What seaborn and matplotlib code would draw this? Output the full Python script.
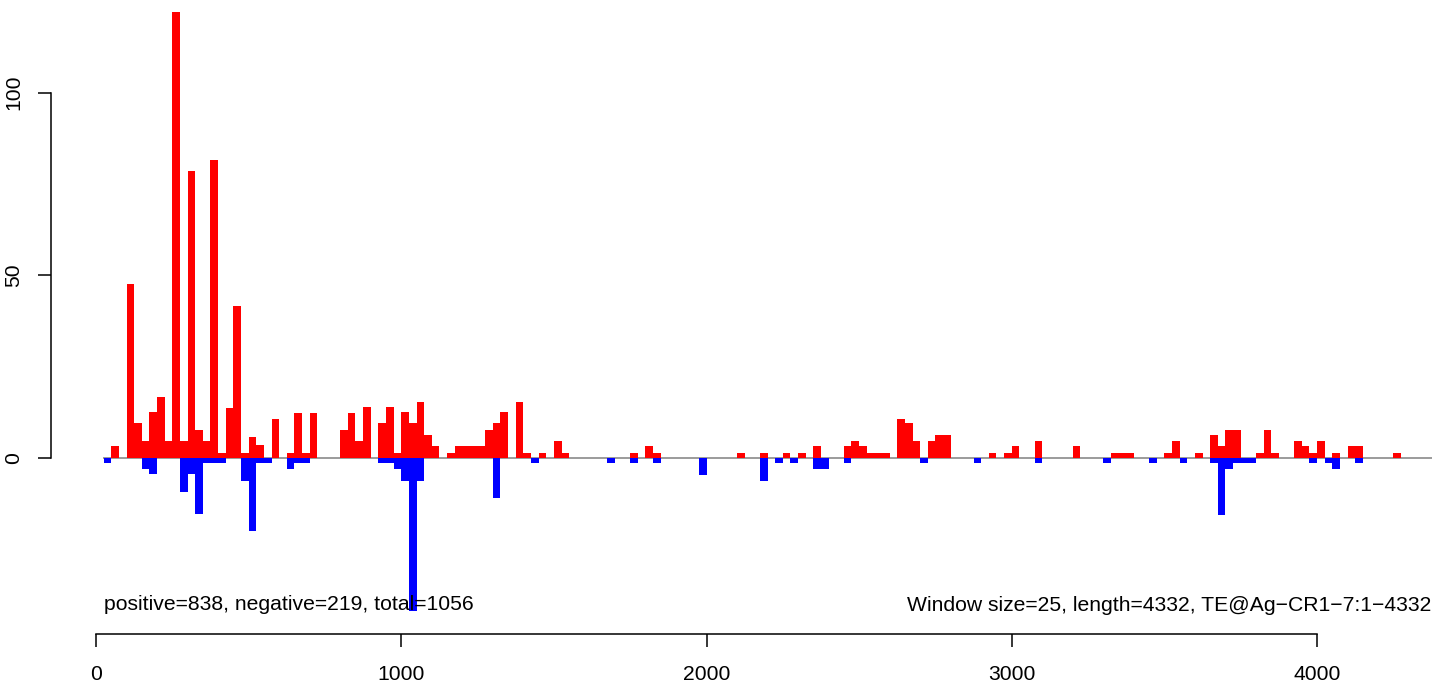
"""
plot.py
=======
Strand coverage of small RNA reads along TE@Ag-CR1-7 in 25 bp windows.
Positive strand drawn upward (red), negative strand downward (blue).
"""

import numpy as np
import pandas as pd
import matplotlib
matplotlib.use('Agg')
import matplotlib.pyplot as plt
import seaborn as sns

WINDOW = 25
SEQ_LENGTH = 4332

# window index (start = index * WINDOW) and read counts
pos_windows = [2, 4, 5, 6, 7, 8, 9, 10, 11, 12, 13, 14, 15, 16, 17, 18, 19, 20, 21, 23,
               25, 26, 27, 28, 32, 33, 34, 35, 37, 38, 39, 40, 41, 42, 43, 44, 46, 47,
               48, 49, 50, 51, 52, 53, 55, 56, 58, 60, 61, 70, 72, 73, 84, 87, 90, 92,
               94, 98, 99, 100, 101, 102, 103, 105, 106, 107, 109, 110, 111, 117, 119,
               120, 123, 128, 133, 134, 135, 140, 141, 144, 146, 147, 148, 149, 152,
               153, 154, 157, 158, 159, 160, 162, 164, 165, 170]
pos_counts = [3.3, 47.6, 9.4, 4.5, 12.4, 16.6, 4.5, 122.0, 4.5, 78.5, 7.6, 4.5, 81.6, 1.4,
              13.6, 41.6, 1.4, 5.8, 3.4, 10.5,
              1.4, 12.3, 1.4, 12.3, 7.6, 12.3, 4.6, 13.9, 9.4, 13.9, 1.4, 12.4, 9.4, 15.3,
              6.1, 3.1, 1.4, 3.1,
              3.1, 3.1, 3.1, 7.7, 9.4, 12.4, 15.3, 1.4, 1.4, 4.7, 1.4, 1.4, 3.3, 1.4, 1.4,
              1.4, 1.4, 1.4,
              3.3, 3.3, 4.7, 3.3, 1.4, 1.4, 1.4, 10.7, 9.4, 4.7, 4.7, 6.2, 6.2, 1.4, 1.4,
              3.3, 4.7, 3.3, 1.4, 1.4, 1.4, 1.4, 4.7, 1.4, 6.2, 3.3, 7.7, 7.7, 1.4,
              7.7, 1.4, 4.7, 3.1, 1.4, 4.7, 1.4, 3.1, 3.1, 1.4]

neg_windows = [1, 6, 7, 11, 12, 13, 14, 15, 16, 19, 20, 21, 22, 25, 26, 27, 37, 38,
               39, 40, 41, 42, 52, 57, 67, 70, 73, 79, 87, 89, 91, 94, 95, 98, 108,
               115, 123, 132, 138, 142, 146, 147, 148, 149, 150, 151, 159, 161, 162, 165]
neg_counts = [-1.5, -3.2, -4.6, -9.3, -4.6, -15.5, -1.5, -1.5, -1.5, -6.3, -20.1, -1.5,
              -1.5, -3.2, -1.5, -1.5, -1.5, -1.5,
              -3.2, -6.3, -41.9, -6.3, -11.0, -1.5, -1.5, -1.5, -1.5, -4.7, -6.3, -1.5,
              -1.5, -3.2, -3.2, -1.5, -1.5,
              -1.5, -1.5, -1.5, -1.5, -1.5, -1.5, -15.7, -3.2, -1.5, -1.5, -1.5, -1.5,
              -1.5, -3.2, -1.5]

x_ticks = [0, 1000, 2000, 3000, 4000]
y_ticks = [0, 50, 100]

summary_text = 'positive=838, negative=219, total=1056'
info_text = 'Window size=25, length=4332, TE@Ag\u2212CR1\u22127:1\u22124332'

# --- figure geometry (pixels of the 1444x682 canvas) ---
W, H = 1444, 682
X0_PX, PX_PER_UNIT_X = 96.0, 0.30525      # x = 0 at px 96
Y0_PX, PX_PER_UNIT_Y = 457.7, 3.65        # y = 0 at px 457.7
FONT_SIZE = 15.2

sns.set_style('white')
plt.rcParams['font.family'] = ['Liberation Sans', 'DejaVu Sans']
plt.rcParams['text.color'] = 'black'

df_pos = pd.DataFrame({
    'center': np.array(pos_windows) * WINDOW + WINDOW / 2,
    'count': pos_counts,
})
df_neg = pd.DataFrame({
    'center': np.array(neg_windows) * WINDOW + WINDOW / 2,
    'count': neg_counts,
})

fig = plt.figure(figsize=(W / 100, H / 100), dpi=100)
ax = fig.add_axes([0, 0, 1, 1])

# zero reference line across the plot region
ax.hlines(0, 22, SEQ_LENGTH + 44, color='#808080', lw=1.1, zorder=0.5)

sns.barplot(data=df_pos, x='center', y='count', native_scale=True, orient='x',
            width=1.0, color='#FF0000', saturation=1, linewidth=0,
            errorbar=None, ax=ax, zorder=2)
sns.barplot(data=df_neg, x='center', y='count', native_scale=True, orient='x',
            width=1.0, color='#0000FF', saturation=1, linewidth=0,
            errorbar=None, ax=ax, zorder=2)

ax.set_xlim(-X0_PX / PX_PER_UNIT_X, (W - X0_PX) / PX_PER_UNIT_X)
ax.set_ylim(-(H - Y0_PX) / PX_PER_UNIT_Y, Y0_PX / PX_PER_UNIT_Y)
ax.set_xlabel('')
ax.set_ylabel('')
ax.patch.set_alpha(0)

# R-style detached axes
for side in ['top', 'right']:
    ax.spines[side].set_visible(False)
ax.spines['bottom'].set_position(('data', -(634 - Y0_PX) / PX_PER_UNIT_Y))
ax.spines['bottom'].set_bounds(x_ticks[0], x_ticks[-1])
ax.spines['left'].set_position(('data', (50.7 - X0_PX) / PX_PER_UNIT_X))
ax.spines['left'].set_bounds(y_ticks[0], y_ticks[-1])
for side in ['bottom', 'left']:
    ax.spines[side].set_color('black')
    ax.spines[side].set_linewidth(1.1)

ax.set_xticks(x_ticks)
ax.set_xticklabels([str(t) for t in x_ticks])
ax.set_yticks(y_ticks)
ax.set_yticklabels([str(t) for t in y_ticks], rotation=90, va='center')
ax.tick_params(axis='x', direction='out', length=9.4, width=1.1, pad=13.0,
               labelsize=FONT_SIZE, colors='black', bottom=True)
ax.tick_params(axis='y', direction='out', length=9.4, width=1.1, pad=10.5,
               labelsize=FONT_SIZE, colors='black', left=True)

fig.text(104 / W, 1 - 610 / H, summary_text, ha='left', va='baseline',
         fontsize=FONT_SIZE, color='black')
fig.text(1431 / W, 1 - 611 / H, info_text, ha='right', va='baseline',
         fontsize=FONT_SIZE, color='black')

fig.savefig('out.png', dpi=100)
plt.close(fig)
print('Saved: out.png')
